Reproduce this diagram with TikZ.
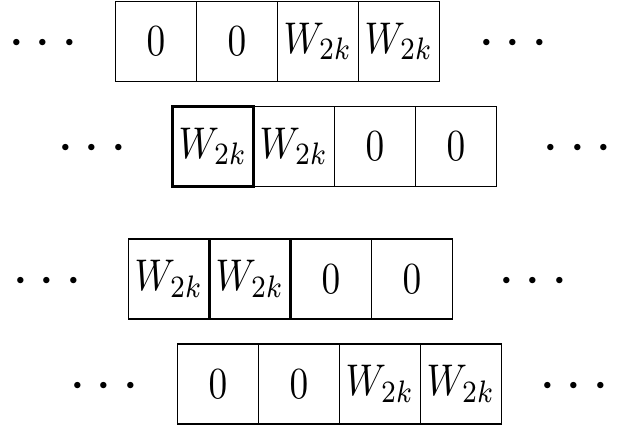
\documentclass[tikz,border=0pt]{standalone}
\usepackage{graphicx}
\begin{document}
\begin{tikzpicture}[x=0.75pt,y=-0.75pt,
  cell/.style={draw, line width=0.8pt, minimum width=60.75pt, minimum height=60pt, inner sep=0pt, outer sep=0pt},
  thick cell/.style={cell, line width=1.6pt},
  dots/.style={inner sep=0pt, outer sep=0pt, anchor=base}]
\useasboundingbox (0,0) rectangle (625,427);
\newcommand{\zz}{\scalebox{2.8}[3.33]{$0$}}
\newcommand{\ww}{\scalebox{2.8}[3.33]{$W_{2k}$}}
\newcommand{\dd}{\scalebox{4.49}{$\cdots$}}
% row 1
\node[cell] (r1c1) at (156,41.5) {\zz};
\node[cell] (r1c2) at (237,41.5) {\zz};
\node[cell] (r1c3) at (318,41.5) {\ww};
\node[cell] (r1c4) at (399,41.5) {\ww};
% row 2
\node[cell] (r2c2) at (294,146.5) {\ww};
\node[cell] (r2c3) at (375,146.5) {\zz};
\node[cell] (r2c4) at (456,146.5) {\zz};
\node[thick cell] (r2c1) at (213,146.5) {\ww};
% row 3
\node[cell] (r3c1) at (169,279) {\ww};
\node[cell] (r3c3) at (331,279) {\zz};
\node[cell] (r3c4) at (412,279) {\zz};
\node[thick cell] (r3c2) at (250,279) {\ww};
% row 4
\node[cell] (r4c1) at (218,384) {\zz};
\node[cell] (r4c2) at (299,384) {\zz};
\node[cell] (r4c3) at (380,384) {\ww};
\node[cell] (r4c4) at (461,384) {\ww};
% dots
\node[dots] (d1l) at (43.3,57.7) {\dd};
\node[dots] (d1r) at (513.3,57.7) {\dd};
\node[dots] (d2l) at (92.3,162.7) {\dd};
\node[dots] (d2r) at (577.7,162.7) {\dd};
\node[dots] (d3l) at (47.3,295.7) {\dd};
\node[dots] (d3r) at (533.3,295.7) {\dd};
\node[dots] (d4l) at (104.3,400.7) {\dd};
\node[dots] (d4r) at (574,400.7) {\dd};
\end{tikzpicture}
\end{document}
